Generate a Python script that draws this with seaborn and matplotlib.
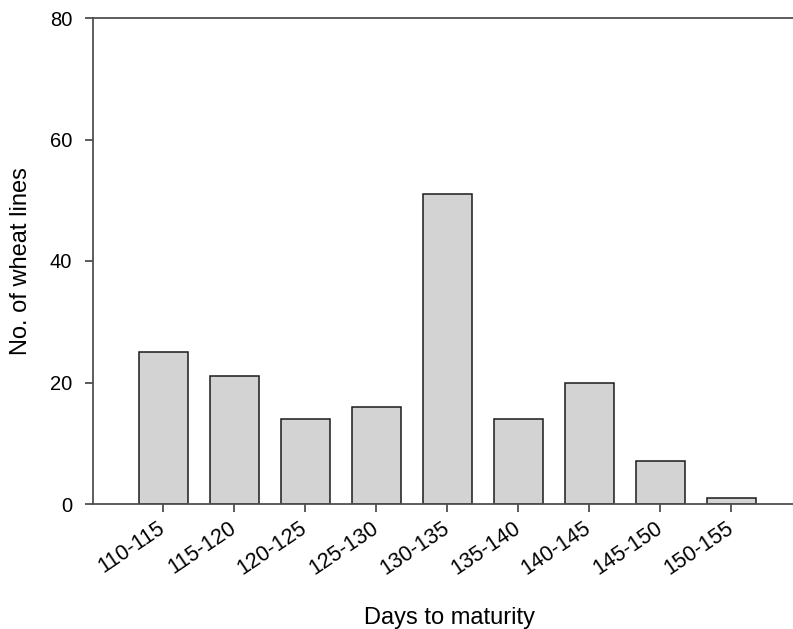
import matplotlib
matplotlib.use("Agg")
import matplotlib.pyplot as plt
import seaborn as sns
import pandas as pd

categories = ["110-115", "115-120", "120-125", "125-130", "130-135",
              "135-140", "140-145", "145-150", "150-155"]
counts = [25, 21, 14, 16, 51, 14, 20, 7, 1]
yticks = [0, 20, 40, 60, 80]

sns.set_style("white")
plt.rcParams['font.family'] = ['Liberation Sans', 'DejaVu Sans']

df = pd.DataFrame({"range": categories, "count": counts})

fig = plt.figure(figsize=(7.93, 6.29), dpi=100)
ax = fig.add_axes([93/793, 1 - 504/629, 1 - 93/793, (504 - 18)/629])
sns.barplot(data=df, x="range", y="count", color="#d3d3d3", saturation=1,
            width=0.69, edgecolor="#1a1a1a", linewidth=1.1, ax=ax)

ax.set_xlim(-0.99, 8.87)
ax.set_ylim(0, 80)
ax.set_yticks(yticks)
ax.set_yticklabels([str(v) for v in yticks], fontsize=14.5, color="black")
ax.set_xticks(range(len(categories)))
ax.set_xticklabels(categories, rotation=34, ha="right", va="center",
                   rotation_mode="anchor", fontsize=15.5, color="black")
ax.tick_params(axis="both", direction="out", length=6, width=1.2, color="#404040",
               bottom=True, left=True)
ax.tick_params(axis="y", pad=9)
ax.tick_params(axis="x", pad=10)
for s in ["left", "bottom", "top"]:
    ax.spines[s].set_color("#505050")
    ax.spines[s].set_linewidth(1.3)
ax.spines["right"].set_visible(False)
ax.set_xlabel("Days to maturity", fontsize=17, color="black")
ax.set_ylabel("No. of wheat lines", fontsize=17, color="black")
ax.xaxis.set_label_coords(0.509, -0.212)
ax.yaxis.set_label_coords(-0.087, 0.5)

fig.savefig("out.png", dpi=100)
